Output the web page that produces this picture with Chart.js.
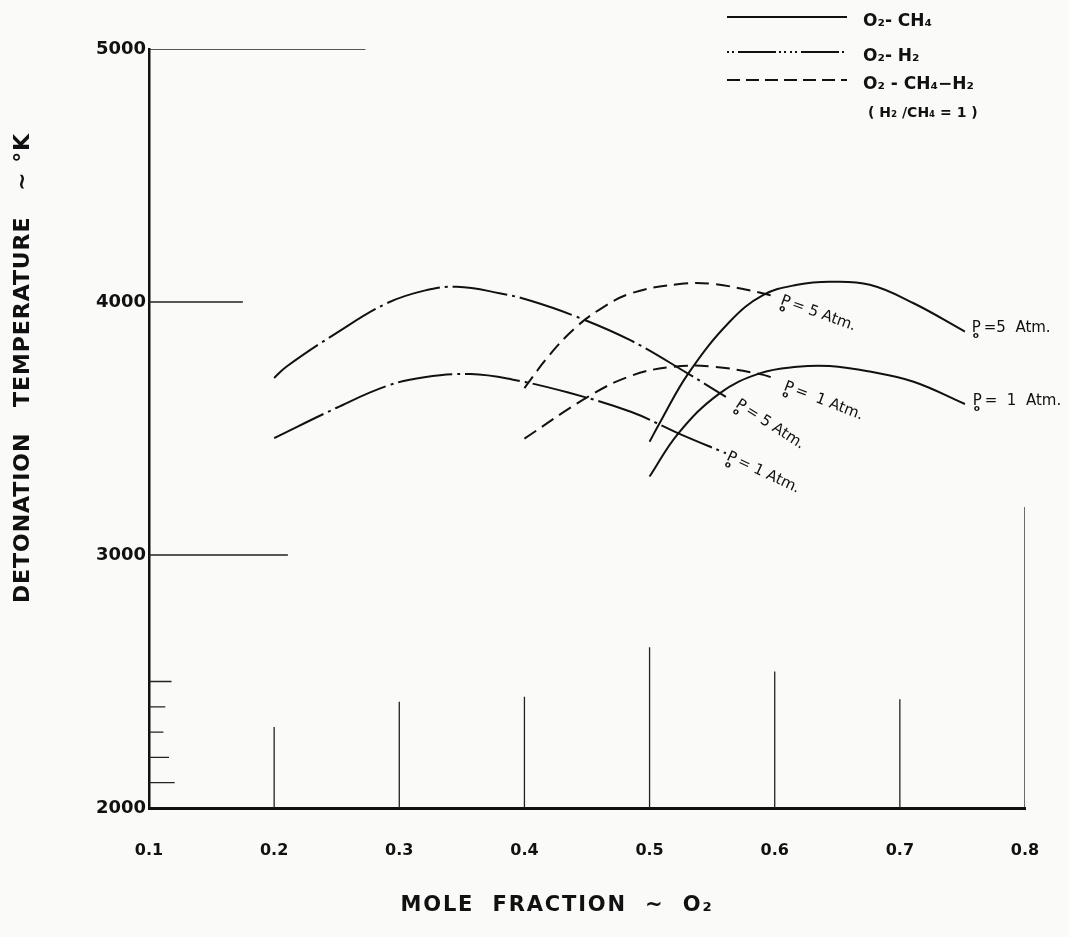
<!DOCTYPE html>
<html>
<head>
<meta charset="utf-8">
<title>Detonation temperature vs mole fraction O2</title>
<script src="https://cdn.jsdelivr.net/npm/chart.js@4/dist/chart.umd.min.js"></script>
<style>
    html, body { margin: 0; padding: 0; background: #fafaf8; }
    #wrap { width: 1069px; height: 937px; }
</style>
</head>
<body>
<div id="wrap"><canvas id="detonationChart" width="1069" height="937"></canvas></div>
<script>
// Axis ticks
const xTicks = [0.1, 0.2, 0.3, 0.4, 0.5, 0.6, 0.7, 0.8];
const yTicks = [2000, 3000, 4000, 5000];

// O2 - CH4 (solid)
const ch4P5X = [0.50, 0.508, 0.531, 0.564, 0.591, 0.618, 0.644, 0.676, 0.711, 0.752];
const ch4P5Y = [3448, 3521, 3718, 3922, 4028, 4068, 4080, 4068, 3995, 3883];
const ch4P1X = [0.50, 0.523, 0.556, 0.588, 0.618, 0.644, 0.676, 0.711, 0.752];
const ch4P1Y = [3310, 3481, 3639, 3718, 3744, 3747, 3725, 3685, 3597];

// O2 - H2 (dash-dot)
const h2P5X = [0.20, 0.21, 0.25, 0.29, 0.32, 0.346, 0.38, 0.405, 0.44, 0.485, 0.531, 0.561];
const h2P5Y = [3700, 3745, 3878, 3995, 4045, 4060, 4035, 4005, 3945, 3848, 3716, 3625];
const h2P1X = [0.20, 0.25, 0.29, 0.32, 0.357, 0.39, 0.435, 0.485, 0.523, 0.561];
const h2P1Y = [3462, 3582, 3668, 3703, 3715, 3694, 3642, 3566, 3481, 3402];

// O2 - CH4 - H2, H2/CH4 = 1 (dashed)
const mixP5X = [0.40, 0.42, 0.44, 0.46, 0.485, 0.524, 0.551, 0.591, 0.60];
const mixP5Y = [3660, 3790, 3895, 3970, 4034, 4071, 4071, 4034, 4021];
const mixP1X = [0.40, 0.45, 0.485, 0.519, 0.551, 0.591, 0.602];
const mixP1Y = [3460, 3623, 3708, 3744, 3744, 3712, 3692];

// Stray graph-paper rules left on the sheet
const hRuleY = [5000, 4000, 3000, 2500, 2400, 2300, 2200, 2100];
const hRuleEnd = [0.273, 0.175, 0.211, 0.118, 0.113, 0.1115, 0.116, 0.1205];
const vRuleX = [0.2, 0.3, 0.4, 0.5, 0.6, 0.7, 0.8];
const vRuleTop = [2320, 2420, 2440, 2635, 2540, 2430, 3190];

const INK = '#111';
const FONT = '"DejaVu Sans", sans-serif';

function toPoints(xs, ys) {
    return xs.map((v, i) => ({ x: v, y: ys[i] }));
}

// build broken segments (null y breaks the line)
function hRules() {
    const pts = [];
    hRuleY.forEach((v, i) => {
        pts.push({ x: xTicks[0], y: v }, { x: hRuleEnd[i], y: v }, { x: hRuleEnd[i], y: null });
    });
    return pts;
}
function vRules() {
    const pts = [];
    vRuleX.forEach((v, i) => {
        pts.push({ x: v, y: yTicks[0] }, { x: v, y: vRuleTop[i] }, { x: v, y: null });
    });
    return pts;
}

function curve(xs, ys, dash) {
    return {
        data: toPoints(xs, ys),
        showLine: true,
        borderColor: INK,
        borderWidth: 2,
        borderDash: dash,
        pointRadius: 0,
        tension: 0.4,
        fill: false
    };
}
function rule(points) {
    return {
        data: points,
        showLine: true,
        spanGaps: false,
        borderColor: '#222',
        borderWidth: 1.3,
        pointRadius: 0,
        tension: 0
    };
}

const DASH_DOT = [55, 5, 3, 5];
const DASHED = [14, 7];

// "Po = .. Atm." notes beside curve ends
const pressureLabels = [
    { text: '= 5 Atm.', x: 0.6051, y: 4008, angle: 20 },
    { text: '=  1 Atm.', x: 0.6077, y: 3668, angle: 21 },
    { text: '= 5 Atm.', x: 0.5697, y: 3601, angle: 33 },
    { text: '= 1 Atm.', x: 0.5622, y: 3391, angle: 25 },
    { text: '=5  Atm.', x: 0.7574, y: 3897, angle: 0 },
    { text: '=  1  Atm.', x: 0.7582, y: 3609, angle: 0 }
];

function spacedText(ctx, text, width) {
    ctx.letterSpacing = '0px';
    const w = ctx.measureText(text).width;
    const sp = Math.max((width - w) / text.length, 0);
    ctx.letterSpacing = sp.toFixed(2) + 'px';
}

const paperPlugin = {
    id: 'paperNotes',
    afterDraw(chart) {
        const { ctx, scales: { x, y } } = chart;
        ctx.save();
        ctx.fillStyle = INK;
        ctx.strokeStyle = INK;

        // pressure notes
        pressureLabels.forEach(l => {
            ctx.save();
            ctx.translate(x.getPixelForValue(l.x), y.getPixelForValue(l.y));
            ctx.rotate(l.angle * Math.PI / 180);
            ctx.textAlign = 'left';
            ctx.textBaseline = 'middle';
            ctx.font = '15px ' + FONT;
            ctx.fillText('P', 0, 0);
            const pw = ctx.measureText('P').width;
            ctx.font = 'bold 9px ' + FONT;
            ctx.fillText('o', 1, 8);
            ctx.font = '15px ' + FONT;
            ctx.fillText(l.text, pw + 3, 0);
            ctx.restore();
        });

        // legend (top right)
        const legend = [
            { dash: [], y: 17, text: 'O\u2082- CH\u2084' },
            { dash: [2, 3, 2, 4, 38, 3, 2, 3, 2, 4], y: 52, text: 'O\u2082- H\u2082' },
            { dash: [13, 6], y: 80, text: 'O\u2082 - CH\u2084\u2212H\u2082' }
        ];
        legend.forEach(item => {
            ctx.setLineDash(item.dash);
            ctx.lineWidth = 2;
            ctx.beginPath();
            ctx.moveTo(727, item.y);
            ctx.lineTo(847, item.y);
            ctx.stroke();
            ctx.setLineDash([]);
            ctx.font = 'bold 17px ' + FONT;
            ctx.textAlign = 'left';
            ctx.textBaseline = 'middle';
            ctx.fillText(item.text, 863, item.y + 5);
        });
        ctx.font = 'bold 14px ' + FONT;
        ctx.fillText('( H\u2082 /CH\u2084 = 1 )', 868, 113);

        // axis titles
        ctx.save();
        ctx.translate(23, 368);
        ctx.rotate(-Math.PI / 2);
        ctx.font = 'bold 22px ' + FONT;
        ctx.textAlign = 'center';
        ctx.textBaseline = 'middle';
        const yTitle = 'DETONATION   TEMPERATURE   ~ \u00B0K';
        spacedText(ctx, yTitle, 470);
        ctx.fillText(yTitle, 0, 0);
        ctx.restore();

        ctx.font = 'bold 21px ' + FONT;
        ctx.textAlign = 'center';
        ctx.textBaseline = 'middle';
        const xTitle = 'MOLE  FRACTION  ~  O\u2082';
        spacedText(ctx, xTitle, 313);
        ctx.fillText(xTitle, 557, 906);
        ctx.letterSpacing = '0px';
        ctx.restore();
    }
};

const ctx = document.getElementById('detonationChart').getContext('2d');

new Chart(ctx, {
    type: 'scatter',
    data: {
        datasets: [
            curve(ch4P5X, ch4P5Y, []),
            curve(ch4P1X, ch4P1Y, []),
            curve(h2P5X, h2P5Y, DASH_DOT),
            curve(h2P1X, h2P1Y, DASH_DOT),
            curve(mixP5X, mixP5Y, DASHED),
            curve(mixP1X, mixP1Y, DASHED),
            rule(hRules()),
            rule(vRules())
        ]
    },
    options: {
        responsive: false,
        animation: false,
        layout: { padding: { top: 49, right: 44, left: 0, bottom: 0 } },
        plugins: {
            legend: { display: false },
            tooltip: { enabled: false },
            title: { display: false }
        },
        scales: {
            x: {
                type: 'linear',
                min: 0.1,
                max: 0.8,
                afterBuildTicks: scale => { scale.ticks = xTicks.map(v => ({ value: v })); },
                afterFit: scale => {
                    scale.height = 129;
                    scale.paddingLeft = 0;
                    scale.paddingRight = 0;
                },
                grid: { color: 'rgba(0,0,0,0)', drawTicks: false },
                border: { display: true, color: INK, width: 3 },
                ticks: {
                    padding: 33,
                    color: INK,
                    font: { family: FONT, size: 16, weight: 'bold' },
                    callback: v => v.toFixed(1)
                }
            },
            y: {
                type: 'linear',
                min: 2000,
                max: 5000,
                afterBuildTicks: scale => { scale.ticks = yTicks.map(v => ({ value: v })); },
                afterFit: scale => { scale.width = 149; },
                grid: { color: 'rgba(0,0,0,0)', drawTicks: false },
                border: { display: true, color: INK, width: 2.5 },
                ticks: {
                    padding: 3,
                    color: INK,
                    font: { family: FONT, size: 18, weight: 'bold' },
                    callback: v => String(v)
                }
            }
        }
    },
    plugins: [paperPlugin]
});
</script>
</body>
</html>
